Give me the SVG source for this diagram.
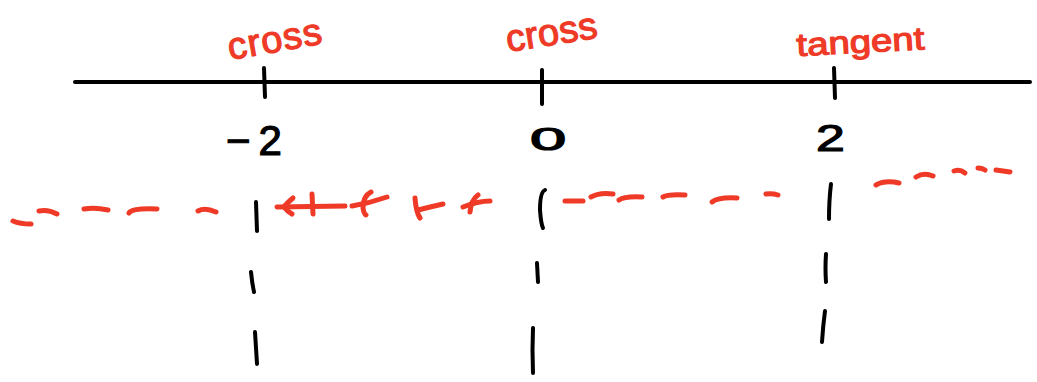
<svg xmlns="http://www.w3.org/2000/svg" width="1037" height="382" viewBox="0 0 1037 382">
<style>
.k{stroke:#000;stroke-width:4;fill:none;stroke-linecap:round;stroke-linejoin:round}
.r{stroke:#ee3a26;stroke-width:5;fill:none;stroke-linecap:round;stroke-linejoin:round}
.lbl{fill:#ee3a26;stroke:#ee3a26;stroke-width:1.2;font-family:"Liberation Sans",Arial,sans-serif}
.num{fill:#000;stroke:#000;stroke-width:1.2;font-family:"Liberation Sans",Arial,sans-serif}
</style>
<rect width="1037" height="382" fill="#fff"/>
<g id="axis">
<path class="k" d="M75 82 L1030 82"/>
<path class="k" d="M264 68 L265 97"/>
<path class="k" d="M542 70 L542 104"/>
<path class="k" d="M834 68 L835 98"/>
</g>
<g id="labels">
<text class="lbl" x="230" y="60" font-size="38" textLength="95" lengthAdjust="spacing" transform="rotate(-10 230 60)">cross</text>
<text class="lbl" x="508" y="52" font-size="38" textLength="92" lengthAdjust="spacing" transform="rotate(-9 508 52)">cross</text>
<text class="lbl" x="797" y="56" font-size="32" textLength="128" lengthAdjust="spacingAndGlyphs" transform="rotate(-3 797 56)">tangent</text>
<text class="num" x="226" y="155" font-size="42" letter-spacing="8">−2</text>
<text class="num" font-size="31" stroke-width="0.6" transform="translate(530 150) scale(2.1 1)">0</text>
<text class="num" font-size="37" transform="translate(816 151) scale(1.4 1)">2</text>
</g>
<g id="vertical-guides">
<path class="k" d="M256 202 L257 231"/>
<path class="k" d="M251 272 Q252 283 254 292"/>
<path class="k" d="M255 332 Q256 348 257 364"/>
<path class="k" d="M545 190 Q540 192 540 210 Q541 224 543 228"/>
<path class="k" d="M537 263 L538 282"/>
<path class="k" d="M533 328 Q532 350 533 373"/>
<path class="k" d="M831 184 Q829 200 829 219"/>
<path class="k" d="M826 254 Q825 268 826 282"/>
<path class="k" d="M825 311 Q823 326 822 342"/>
</g>
<g id="sign-chart">
<path class="r" d="M13 221 Q20 224 31 224"/>
<path class="r" d="M39 211 Q48 209 57 214"/>
<path class="r" d="M84 209 Q95 207 108 210"/>
<path class="r" d="M129 213 Q132 208 157 209"/>
<path class="r" d="M198 211 Q205 207 216 212"/>
<path class="r" d="M277 207 L345 206"/>
<path class="r" d="M293 198 Q286 204 284 207 Q287 211 292 214"/>
<path class="r" d="M312 194 L313 214"/>
<path class="r" d="M352 206 Q370 203 387 197"/>
<path class="r" d="M371 192 Q363 196 363 208 Q364 214 366 215"/>
<path class="r" d="M415 198 Q416 212 420 218"/>
<path class="r" d="M418 210 Q430 207 443 204"/>
<path class="r" d="M463 207 Q478 201 490 201"/>
<path class="r" d="M478 195 Q471 200 470 212"/>
<path class="r" d="M565 201 L583 201"/>
<path class="r" d="M591 197 Q600 192 613 194"/>
<path class="r" d="M619 200 Q625 196 642 197"/>
<path class="r" d="M663 197 Q668 194 685 195"/>
<path class="r" d="M712 202 Q718 197 737 198"/>
<path class="r" d="M766 194 Q772 193 778 195"/>
<path class="r" d="M876 185 Q885 180 899 183"/>
<path class="r" d="M916 177 Q924 172 933 176"/>
<path class="r" d="M954 171 Q960 169 965 173"/>
<path class="r" d="M978 168 Q982 168 985 170"/>
<path class="r" d="M996 170 L1010 172"/>
</g>
</svg>
